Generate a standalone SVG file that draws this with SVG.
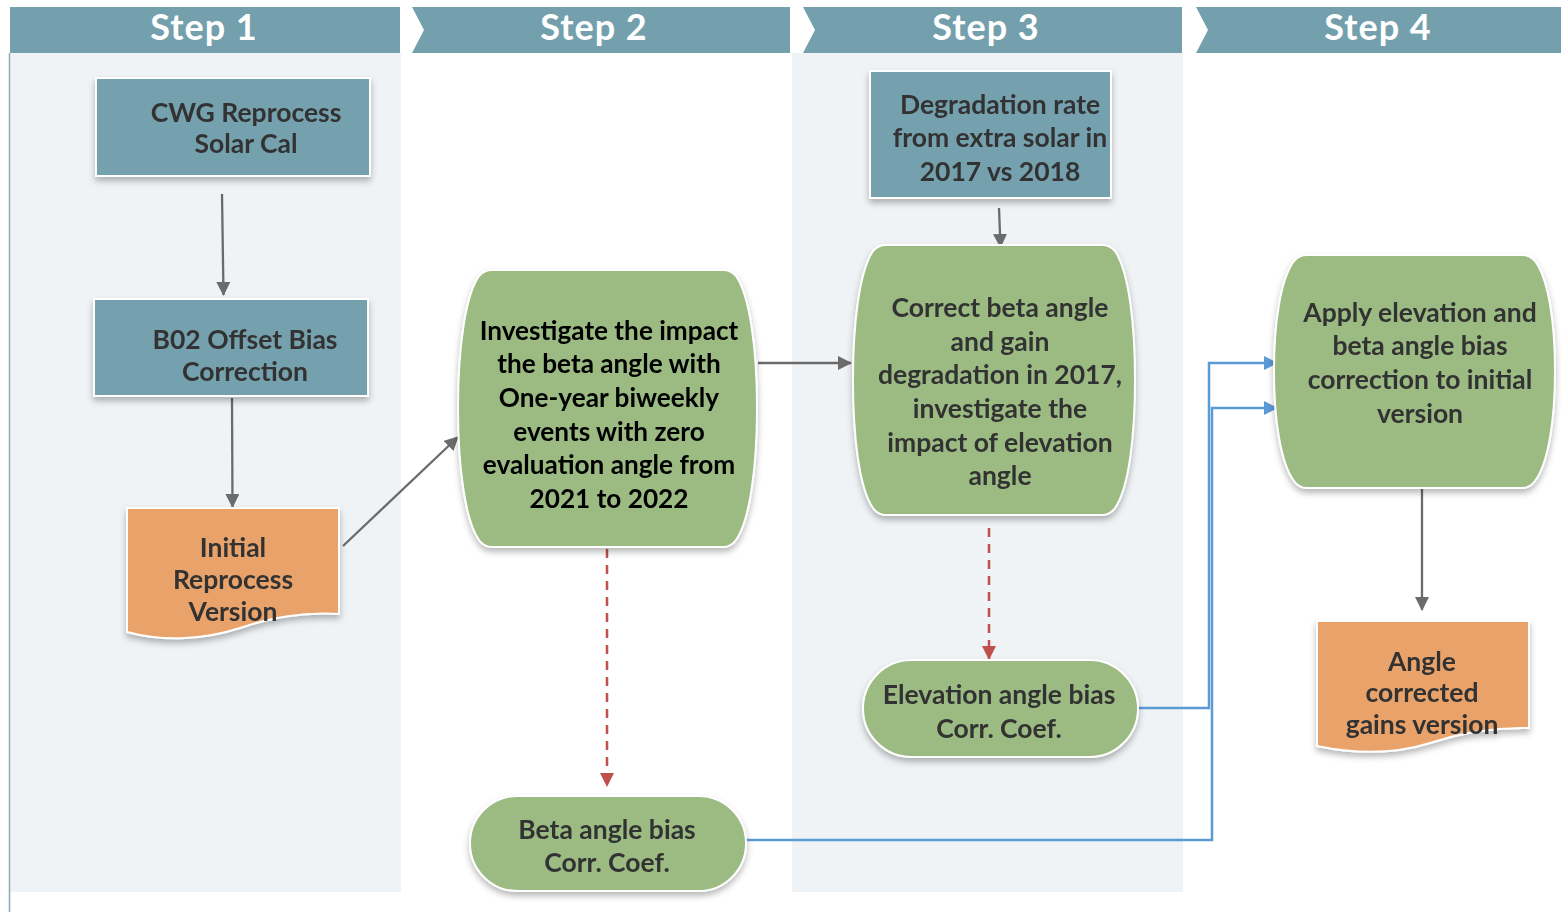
<svg xmlns="http://www.w3.org/2000/svg" width="1561" height="912" viewBox="0 0 1561 912">
<defs>
<style>
.hdr{fill:#74a0ae}
.lane{fill:#eff3f5}
.ht{font-family:Lato,"Open Sans",sans-serif;font-weight:bold;font-size:36px;fill:#ffffff;text-anchor:middle;letter-spacing:1px}
.t{font-family:Lato,"Open Sans",sans-serif;font-weight:bold;font-size:26.5px;fill:#333333;text-anchor:middle}
.tb{fill:#000000;font-size:26.2px}
.box{fill:#74a0ae;stroke:#ffffff;stroke-width:2}
.grn{fill:#9bbb82;stroke:#ffffff;stroke-width:2}
.doc{fill:#e9a36a;stroke:#ffffff;stroke-width:2}
.gc{fill:none;stroke:#6b6b6b;stroke-width:2.3}
.rc{fill:none;stroke:#c0504d;stroke-width:2.5;stroke-dasharray:9,7}
.bc{fill:none;stroke:#5b9bd5;stroke-width:2.5}
</style>
<filter id="sh" x="-10%" y="-10%" width="120%" height="130%">
<feDropShadow dx="0" dy="4" stdDeviation="3" flood-color="#000000" flood-opacity="0.28"/>
</filter>
<marker id="ag" markerWidth="14" markerHeight="14" refX="13" refY="7" orient="auto" markerUnits="userSpaceOnUse">
<path d="M0,0 L14,7 L0,14 Z" fill="#6b6b6b"/>
</marker>
<marker id="ar" markerWidth="14" markerHeight="14" refX="13" refY="7" orient="auto" markerUnits="userSpaceOnUse">
<path d="M0,0 L14,7 L0,14 Z" fill="#c0504d"/>
</marker>
<marker id="ab" markerWidth="14" markerHeight="14" refX="13" refY="7" orient="auto" markerUnits="userSpaceOnUse">
<path d="M0,0 L14,7 L0,14 Z" fill="#5b9bd5"/>
</marker>
</defs>
<rect x="0" y="0" width="1561" height="912" fill="#ffffff"/>
<g id="lanes">
<rect class="lane" x="10" y="53" width="391" height="839"/>
<rect class="lane" x="792" y="53" width="391" height="839"/>
<line x1="9.5" y1="53" x2="9.5" y2="912" stroke="#8fa9b4" stroke-width="1.5"/>
<polygon class="hdr" points="10,7 400,7 400,53 10,53"/>
<polygon class="hdr" points="412,7 790,7 790,53 412,53 424,30"/>
<polygon class="hdr" points="803,7 1182,7 1182,53 803,53 815,30"/>
<polygon class="hdr" points="1196,7 1561,7 1561,53 1196,53 1208,30"/>
<text class="ht" x="204" y="40">Step 1</text>
<text class="ht" x="594" y="40">Step 2</text>
<text class="ht" x="986" y="40">Step 3</text>
<text class="ht" x="1378" y="40">Step 4</text>
</g>
<g id="connectors">
<line class="gc" x1="222" y1="194" x2="223.5" y2="295" marker-end="url(#ag)"/>
<line class="gc" x1="232" y1="398" x2="232.5" y2="507" marker-end="url(#ag)"/>
<line class="gc" x1="343" y1="546" x2="458" y2="437" marker-end="url(#ag)"/>
<line class="gc" x1="758" y1="363" x2="851" y2="363" marker-end="url(#ag)"/>
<line class="gc" x1="999" y1="208" x2="1000.5" y2="247" marker-end="url(#ag)"/>
<line class="gc" x1="1422" y1="489" x2="1422" y2="610" marker-end="url(#ag)"/>
<line class="rc" x1="607" y1="549" x2="607" y2="786" marker-end="url(#ar)"/>
<line class="rc" x1="989" y1="528" x2="989" y2="659" marker-end="url(#ar)"/>
<polyline class="bc" points="1138,708 1209,708 1209,363 1277,363" marker-end="url(#ab)"/>
<polyline class="bc" points="746,840 1212,840 1212,408 1277,408" marker-end="url(#ab)"/>
</g>
<g id="n1" filter="url(#sh)">
<rect class="box" x="96" y="78" width="274" height="98"/>
<text class="t" x="246" y="122">CWG Reprocess</text>
<text class="t" x="246" y="153">Solar Cal</text>
</g>
<g id="n2" filter="url(#sh)">
<rect class="box" x="94" y="299" width="274" height="97"/>
<text class="t" x="245" y="349">B02 Offset Bias</text>
<text class="t" x="245" y="381">Correction</text>
</g>
<g id="n3" filter="url(#sh)">
<path class="doc" d="M127,508 H339 V614 C300,612 270,618 240,628 C200,641 160,641 127,632 Z"/>
<text class="t" x="233" y="557">Initial</text>
<text class="t" x="233" y="589">Reprocess</text>
<text class="t" x="233" y="621">Version</text>
</g>
<g id="n4" filter="url(#sh)">
<path class="grn" d="M492,270 H723 Q731,270 736,276 C750,296 757,350 757,408 C757,466 750,520 736,540 Q731,547 723,547 H492 Q484,547 479,540 C465,520 458,466 458,408 C458,350 465,296 479,276 Q484,270 492,270 Z"/>
<text class="t tb" x="609" y="340">Investigate the impact</text>
<text class="t tb" x="609" y="373">the beta angle with</text>
<text class="t tb" x="609" y="407">One-year biweekly</text>
<text class="t tb" x="609" y="441">events with zero</text>
<text class="t tb" x="609" y="474">evaluation angle from</text>
<text class="t tb" x="609" y="508">2021 to 2022</text>
</g>
<g id="n5" filter="url(#sh)">
<rect class="box" x="870" y="71" width="241" height="127"/>
<text class="t" x="1000" y="114">Degradation rate</text>
<text class="t" x="1000" y="147">from extra solar in</text>
<text class="t" x="1000" y="181">2017 vs 2018</text>
</g>
<g id="n6" filter="url(#sh)">
<path class="grn" d="M886,245 H1102 Q1110,245 1115,251 C1129,272 1135,325 1135,380 C1135,435 1129,488 1115,508 Q1110,515 1102,515 H886 Q878,515 873,508 C859,488 853,435 853,380 C853,325 859,272 873,251 Q878,245 886,245 Z"/>
<text class="t" x="1000" y="317">Correct beta angle</text>
<text class="t" x="1000" y="351">and gain</text>
<text class="t" x="1000" y="384">degradation in 2017,</text>
<text class="t" x="1000" y="418">investigate the</text>
<text class="t" x="1000" y="452">impact of elevation</text>
<text class="t" x="1000" y="485">angle</text>
</g>
<g id="n7" filter="url(#sh)">
<rect class="grn" x="863" y="660" width="275" height="97" rx="48.5" ry="48.5"/>
<text class="t" x="999" y="704">Elevation angle bias</text>
<text class="t" x="999" y="738">Corr. Coef.</text>
</g>
<g id="n8" filter="url(#sh)">
<rect class="grn" x="470" y="796" width="276" height="95" rx="47.5" ry="47.5"/>
<text class="t" x="607" y="839">Beta angle bias</text>
<text class="t" x="607" y="872">Corr. Coef.</text>
</g>
<g id="n9" filter="url(#sh)">
<path class="grn" d="M1307,255 H1522 Q1530,255 1535,261 C1549,280 1555,325 1555,371 C1555,417 1549,462 1535,481 Q1530,488 1522,488 H1307 Q1299,488 1294,481 C1280,462 1274,417 1274,371 C1274,325 1280,280 1294,261 Q1299,255 1307,255 Z"/>
<text class="t" x="1420" y="322">Apply elevation and</text>
<text class="t" x="1420" y="355">beta angle bias</text>
<text class="t" x="1420" y="389">correction to initial</text>
<text class="t" x="1420" y="423">version</text>
</g>
<g id="n10" filter="url(#sh)">
<path class="doc" d="M1317,621 H1529 V728 C1490,727 1460,733 1430,743 C1395,754 1355,754 1317,746 Z"/>
<text class="t" x="1422" y="671">Angle</text>
<text class="t" x="1422" y="702">corrected</text>
<text class="t" x="1422" y="734">gains version</text>
</g>
</svg>
